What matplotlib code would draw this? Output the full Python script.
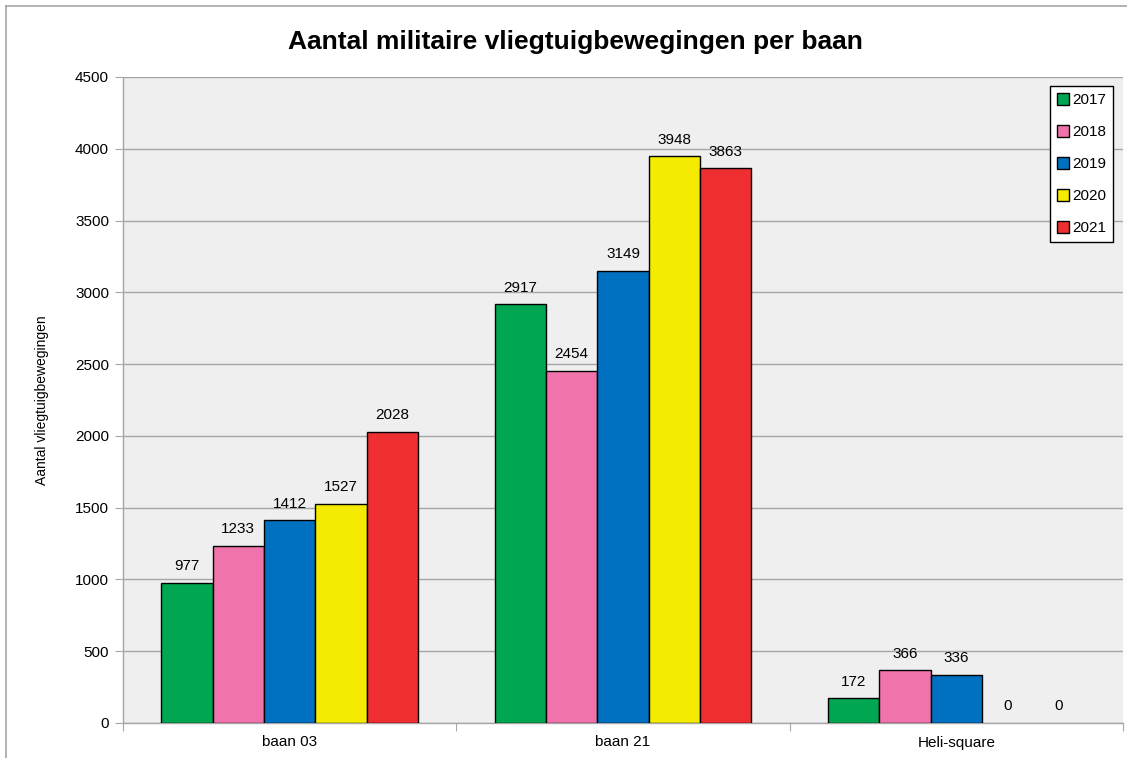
import matplotlib
matplotlib.use("Agg")
import matplotlib.pyplot as plt
import numpy as np
from matplotlib.lines import Line2D

categories = ["baan 03", "baan 21", "Heli-square"]
years = ["2017", "2018", "2019", "2020", "2021"]
v2017 = [977, 2917, 172]
v2018 = [1233, 2454, 366]
v2019 = [1412, 3149, 336]
v2020 = [1527, 3948, 0]
v2021 = [2028, 3863, 0]
series = [v2017, v2018, v2019, v2020, v2021]
colors = ["#00A651", "#F173AC", "#0070C0", "#F5EB00", "#EE2E31"]

plt.rcParams['font.family'] = ['Liberation Sans', 'DejaVu Sans']

fig = plt.figure(figsize=(11.27, 7.58), dpi=100)
ax = fig.add_axes([123/1127, 1-723/758, 1000/1127, (723-77)/758])
ax.set_facecolor("#EFEFEF")

x = np.arange(len(categories))
w = 0.77 / 5
for i, (vals, c, y) in enumerate(zip(series, colors, years)):
    pos = x - 0.385 + w * (i + 0.5)
    edges = ["black" if v > 0 else "none" for v in vals]
    ax.bar(pos, vals, width=w, color=c, edgecolor=edges, linewidth=1.0, label=y, zorder=3)
    for p, v in zip(pos, vals):
        ax.annotate(str(v), (p, v), xytext=(0, 7), textcoords="offset points",
                    ha="center", va="bottom", fontsize=11, zorder=4)

ax.set_xlim(-0.5, 2.5)
ax.set_ylim(0, 4500)
ax.set_yticks(np.arange(0, 4501, 500))
ax.yaxis.grid(True, color="#A6A6A6", linewidth=1.0, zorder=0)
ax.set_xticks([-0.5, 0.5, 1.5, 2.5])
ax.set_xticklabels([])
ax.set_xticks(x, minor=True)
ax.set_xticklabels(categories, minor=True, fontsize=11)
ax.tick_params(axis="x", which="major", length=6, color="#A6A6A6", direction="out")
ax.tick_params(axis="x", which="minor", length=0, pad=9)
ax.tick_params(axis="y", length=6, color="#A6A6A6", labelsize=11, pad=4)
for s in ["top", "right"]:
    ax.spines[s].set_visible(False)
for s in ["left", "bottom"]:
    ax.spines[s].set_color("#A6A6A6")
    ax.spines[s].set_linewidth(1.0)

ax.set_ylabel("Aantal vliegtuigbewegingen", fontsize=10)
ax.yaxis.set_label_coords(-74/1000, 0.5)

fig.text(575/1127, 1-42/758, "Aantal militaire vliegtuigbewegingen per baan",
         ha="center", va="center", fontsize=19, fontweight="bold")

handles = [Line2D([], [], marker="s", linestyle="none", markersize=8,
                  markerfacecolor=c, markeredgecolor="black", markeredgewidth=1.0)
           for c in colors]
leg = ax.legend(handles, years, loc="upper right", bbox_to_anchor=(990/1000, 1-9/646),
                fontsize=11, frameon=True, fancybox=False, edgecolor="black",
                framealpha=1, borderpad=0.45, labelspacing=1.18, handlelength=0.8,
                handletextpad=0.2, borderaxespad=0)
leg.get_frame().set_linewidth(1.0)

# outer chart border
fig.add_artist(Line2D([6/1127, 6/1127], [0, 1-6/758], color="#A6A6A6", linewidth=1.2, transform=fig.transFigure))
fig.add_artist(Line2D([6/1127, 1], [1-6/758, 1-6/758], color="#A6A6A6", linewidth=1.2, transform=fig.transFigure))

fig.savefig("out.png", dpi=100)
